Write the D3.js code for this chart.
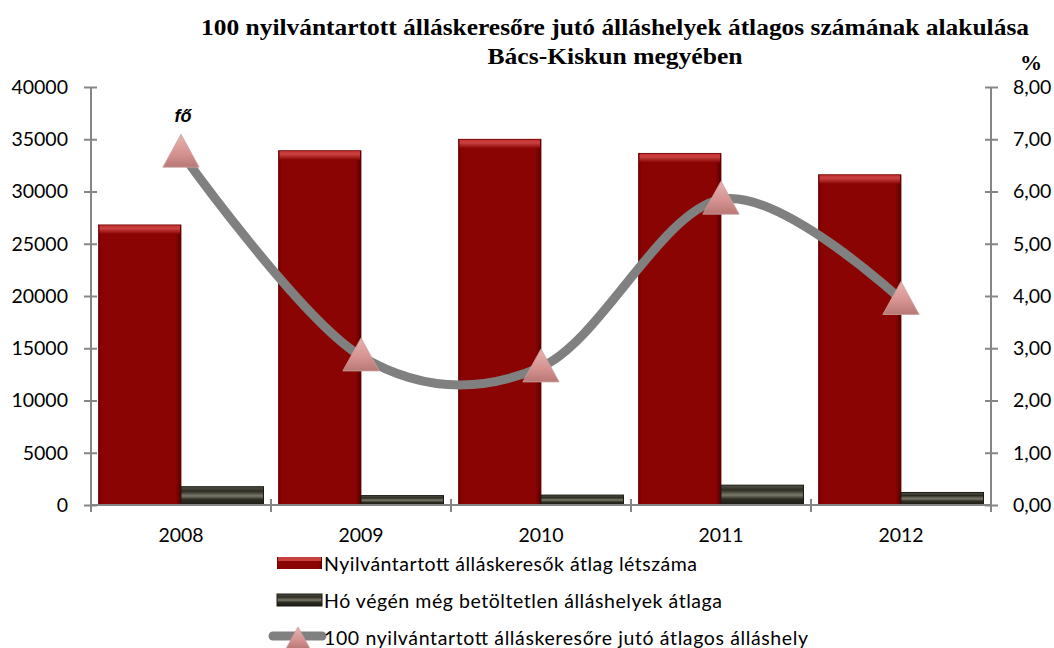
<!DOCTYPE html>
<html><head><meta charset="utf-8">
<script src="https://cdn.jsdelivr.net/npm/d3@7"></script>
<style>body{margin:0;background:#fff}svg{display:block}</style>
</head><body>
<svg id="c" width="1054" height="648"></svg>
<script>
const years = ["2008","2009","2010","2011","2012"];
const jobSeekers = [26800, 33900, 35000, 33650, 31600];
const vacancies = [1750, 900, 950, 1900, 1200];
const ratio = [6.75, 2.85, 2.64, 5.85, 3.93];
const leftTicks = [0,5000,10000,15000,20000,25000,30000,35000,40000];
const rightTicks = [0,1,2,3,4,5,6,7,8];
const titleLines = ["100 nyilvántartott álláskeresőre jutó álláshelyek átlagos számának alakulása","Bács-Kiskun megyében"];
const legendLabels = ["Nyilvántartott álláskeresők átlag létszáma","Hó végén még betöltetlen álláshelyek átlaga","100 nyilvántartott álláskeresőre jutó átlagos álláshely"];

const svg = d3.select("#c");
const L = 91, R = 991, T = 87, B = 505;
const font = "Lato, 'Open Sans', sans-serif";
const axisCol = "#868686";

const defs = svg.append("defs");
function grad(id, stops, vertical){
  const g = defs.append("linearGradient").attr("id", id)
    .attr("x1",0).attr("y1",0).attr("x2", vertical?0:1).attr("y2", vertical?1:0);
  stops.forEach(s=>g.append("stop").attr("offset",s[0]).attr("stop-color",s[1]));
}
grad("redH", [[0,"#6e0000"],[0.04,"#8b0404"],[0.93,"#8b0404"],[1,"#5a0000"]]);
grad("redTop", [[0,"#c83030"],[0.4,"#c84040"],[1,"#8b0404"]], true);
grad("blkV", [[0,"#55544a"],[0.25,"#2d2c22"],[0.5,"#7a796a"],[0.7,"#2d2c22"],[1,"#1d1c15"]], true);
grad("tri", [[0,"#e8b4b2"],[0.6,"#d4918f"],[1,"#b87876"]], true);

const x = d3.scaleBand().domain(years).range([L, R]).paddingInner(0).paddingOuter(0);
const inner = d3.scaleBand().domain(["a","b"]).range([7.5, x.bandwidth()-7.5]);
const yL = d3.scaleLinear().domain([0,40000]).range([B, T]);
const yR = d3.scaleLinear().domain([0,8]).range([B, T]);

// Title
const tLens = [828, 255];
svg.append("g").selectAll("text").data(titleLines).join("text")
  .attr("x", 615).attr("y",(d,i)=>35+i*29).attr("text-anchor","middle")
  .attr("font-family","'Liberation Serif', serif").attr("font-weight","bold")
  .attr("font-size",24).attr("textLength",(d,i)=>tLens[i])
  .attr("lengthAdjust","spacingAndGlyphs").text(d=>d);
svg.append("text").attr("x",1031).attr("y",70).attr("text-anchor","middle")
  .attr("font-family","'Liberation Serif', serif").attr("font-weight","bold").attr("font-size",22).text("%");

// Bars
function drawBars(data, key, cls){
  const g = svg.append("g");
  data.forEach((v,i)=>{
    const x0 = x(years[i]) + inner(key), w = inner.bandwidth();
    const y0 = yL(v), h = B - y0;
    if(cls==="red"){
      g.append("rect").attr("x",x0).attr("y",y0).attr("width",w).attr("height",h).attr("fill","url(#redH)");
      g.append("rect").attr("x",x0+1).attr("y",y0).attr("width",w-2).attr("height",Math.min(9,h)).attr("fill","url(#redTop)");
      g.append("rect").attr("x",x0).attr("y",y0).attr("width",w).attr("height",h).attr("fill","none").attr("stroke","#6a0000").attr("stroke-width",0.8);
    } else {
      g.append("rect").attr("x",x0).attr("y",y0).attr("width",w).attr("height",h).attr("fill","url(#blkV)");
      g.append("rect").attr("x",x0).attr("y",y0).attr("width",w).attr("height",h).attr("fill","none").attr("stroke","#1a1a12").attr("stroke-width",1);
    }
  });
}
drawBars(jobSeekers,"a","red");
drawBars(vacancies,"b","blk");

// Axes
const axL = svg.append("g").attr("transform",`translate(${L},0)`)
  .call(d3.axisLeft(yL).tickValues(leftTicks).tickSize(7).tickFormat(d3.format("d")));
const axR = svg.append("g").attr("transform",`translate(${R},0)`)
  .call(d3.axisRight(yR).tickValues(rightTicks).tickSize(7).tickFormat(d=>d3.format(".2f")(d).replace(".",",")));
[axL, axR].forEach(a=>{
  a.select(".domain").attr("stroke",axisCol).attr("stroke-width",2).attr("d",`M0,${T}V${B}`);
  a.selectAll(".tick line").attr("stroke",axisCol).attr("stroke-width",2);
  a.selectAll("text").attr("font-family",font).attr("font-size",19.5).attr("fill","#000");
});
axL.selectAll(".tick line").attr("x1",6);
axR.selectAll(".tick line").attr("x1",-6);
axL.selectAll("text").attr("x",-23);
axR.selectAll("text").attr("x",22);

// Bottom axis
const axB = svg.append("g").attr("transform",`translate(0,${B})`);
axB.append("line").attr("x1",L).attr("x2",R).attr("stroke",axisCol).attr("stroke-width",2);
const bounds = years.map(d=>x(d)).concat([R]);
axB.selectAll("line.t").data(bounds).join("line").attr("class","t")
  .attr("x1",d=>d).attr("x2",d=>d).attr("y1",-6).attr("y2",7).attr("stroke",axisCol).attr("stroke-width",2);
axB.selectAll("text").data(years).join("text")
  .attr("x",d=>x(d)+x.bandwidth()/2).attr("y",37).attr("text-anchor","middle")
  .attr("font-family",font).attr("font-size",19.5).text(d=>d);

// Line
const pts = ratio.map((v,i)=>[x(years[i])+x.bandwidth()/2, yR(v)]);
svg.append("path").attr("d", d3.line().curve(d3.curveCatmullRom.alpha(0))(pts))
  .attr("fill","none").attr("stroke","#808080").attr("stroke-width",9).attr("stroke-linecap","round");
function tri(g, cx, cy, s){
  g.append("path").attr("d",`M${cx},${cy-s*0.55}L${cx+s*0.55},${cy+s*0.45}L${cx-s*0.55},${cy+s*0.45}Z`)
   .attr("fill","url(#tri)").attr("stroke","#c9a09e").attr("stroke-width",0.8);
}
const mg = svg.append("g");
pts.forEach(p=>tri(mg,p[0],p[1],33));

svg.append("text").attr("x",183).attr("y",122).attr("text-anchor","middle")
  .attr("font-family","'Liberation Sans', sans-serif").attr("font-style","italic").attr("font-weight","bold")
  .attr("font-size",18).text("fő");

// Legend
const lg = svg.append("g");
const ly = [564, 601, 638];
const sx = 277, sw = 45;
lg.append("rect").attr("x",sx).attr("y",ly[0]-7).attr("width",sw).attr("height",12).attr("fill","url(#redH)");
lg.append("rect").attr("x",sx+1).attr("y",ly[0]-7).attr("width",sw-2).attr("height",4).attr("fill","#c84040");
lg.append("rect").attr("x",sx).attr("y",ly[1]-7).attr("width",sw).attr("height",12).attr("fill","url(#blkV)").attr("stroke","#1a1a12");
lg.append("line").attr("x1",sx-4).attr("x2",sx+sw).attr("y1",ly[2]-2).attr("y2",ly[2]-2)
  .attr("stroke","#808080").attr("stroke-width",9).attr("stroke-linecap","round");
tri(lg, sx+21, ly[2]+1, 22);
const legLens = [373, 398, 484];
lg.selectAll("text").data(legendLabels).join("text")
  .attr("x",324).attr("y",(d,i)=>ly[i]+7).attr("font-family",font).attr("font-size",19.5)
  .attr("textLength",(d,i)=>legLens[i]).attr("lengthAdjust","spacing").text(d=>d);
</script>
</body></html>
